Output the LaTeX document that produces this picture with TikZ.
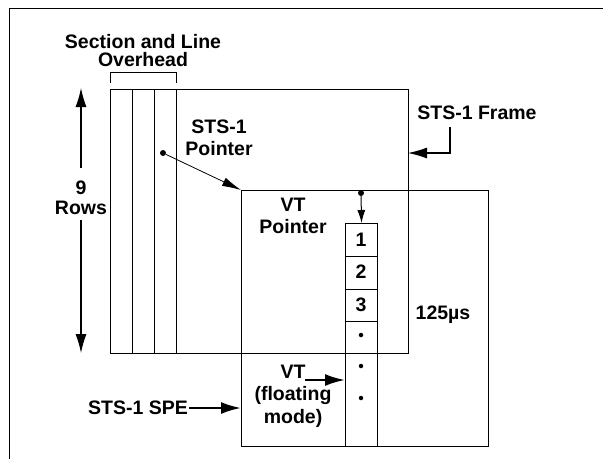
\documentclass[tikz,border=0pt]{standalone}
\usepackage{fontspec}
\setmainfont{Liberation Sans}
\usetikzlibrary{arrows.meta}
\begin{document}
\begin{tikzpicture}[x=1pt,y=-1pt,
  lab/.style={font=\fontsize{19.5}{22}\selectfont\bfseries, align=center, inner sep=1pt},
  box/.style={draw, line width=1.1pt, inner sep=0pt},
  thin/.style={line width=1pt},
  bigtip/.style={-{Latex[length=19pt,width=11pt]}, line width=1.1pt},
  fattip/.style={-{Latex[length=20pt,width=12pt]}, line width=2.2pt},
  smalltip/.style={-{Latex[length=13pt,width=8pt]}, line width=1pt},
  ptrtip/.style={-{Latex[length=19pt,width=9pt]}, line width=0.8pt},
  pdot/.style={circle, fill, inner sep=0pt, minimum size=6pt},
  sdot/.style={circle, fill, inner sep=0pt, minimum size=4.5pt}]
\useasboundingbox (0,0) rectangle (603,459);
% outer frame (top and left only)
\coordinate (otr) at (603,8);
\coordinate (otl) at (9.5,8);
\coordinate (obl) at (9.5,459);
\draw[line width=1pt] (otr) -- (otl) -- (obl);

% STS-1 frame
\node[box, anchor=north west, minimum width=298pt, minimum height=264pt] (frame) at (110,89) {};
\foreach \cx in {132,154,176} \draw[thin] (\cx,89) -- (\cx,353);
% bracket
\coordinate (bl) at (110,83);
\coordinate (br) at (176,83);
\draw[thin] (bl) -- (110,72) -- (176,72) -- (br);
\node[lab, font=\fontsize{19.5}{18}\selectfont\bfseries] (sec) at (143,51) {Section and Line\\Overhead};

% 9 rows arrow
\node[lab, font=\fontsize{19.5}{20}\selectfont\bfseries] (rows) at (81,198) {9\\Rows};
\coordinate (rtop) at (81,88);
\coordinate (rbot) at (81,353);
\coordinate (gtop) at (81,168);
\coordinate (gbot) at (81,220);
\draw[bigtip] (gtop) -- (rtop);
\draw[bigtip] (gbot) -- (rbot);

% STS-1 pointer
\node[lab] (stsptr) at (219,138) {STS-1\\Pointer};
\node[pdot] (p1) at (163,153) {};

% SPE
\node[box, anchor=north west, minimum width=247pt, minimum height=256pt] (spe) at (241,190) {};
\draw[ptrtip] (p1) -- (spe.north west);

% STS-1 Frame label
\node[lab] (framelab) at (477,113) {STS-1 Frame};
\coordinate (flead) at (450,127);
\coordinate (ftip) at (408,153);
\draw[bigtip] (flead) |- (ftip);

% VT column
\node[box, anchor=north west, minimum width=32pt, minimum height=223pt] (col) at (345,223) {};
\foreach \cy in {256,289,321} \draw[thin] (345,\cy) -- (377,\cy);
\node[lab] (c1) at (361,240) {1};
\node[lab] (c2) at (361,272) {2};
\node[lab] (c3) at (361,305) {3};
\node[sdot] (d1) at (361,335) {};
\node[sdot] (d2) at (361,366) {};
\node[sdot] (d3) at (361,398) {};

% VT pointer
\node[lab] (vtptr) at (293,216) {VT\\Pointer};
\node[pdot] (p2) at (361,193) {};
\draw[smalltip] (p2) -- (col.north);

% 125 us
\node[lab] (us) at (443,315) {125µs};

% VT floating
\node[lab, font=\fontsize{19.5}{22.5}\selectfont\bfseries] (vtf) at (293,396) {VT\\(floating\\mode)};
\coordinate (vta) at (305,380);
\draw[fattip] (vta) -- (vta -| col.west);

% STS-1 SPE label
\node[lab] (spelab) at (138,408) {STS-1 SPE};
\draw[fattip] (spelab.east) -- (spelab.east -| spe.west);
\end{tikzpicture}
\end{document}
